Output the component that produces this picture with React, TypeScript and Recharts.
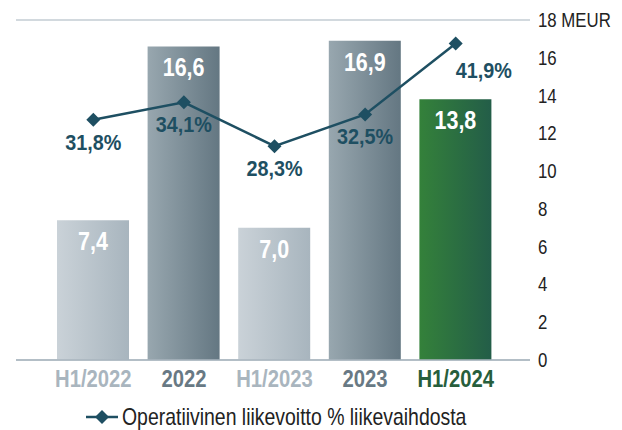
import React from 'react';
import { ComposedChart, Bar, Line, Cell, XAxis, YAxis, CartesianGrid, Legend, LabelList } from 'recharts';

const categories = ['H1/2022', '2022', 'H1/2023', '2023', 'H1/2024'];
const revenue = [7.4, 16.6, 7.0, 16.9, 13.8];
const marginPct = [31.8, 34.1, 28.3, 32.5, 41.9];
const meurTicks = [0, 2, 4, 6, 8, 10, 12, 14, 16, 18];

const fills = ['url(#gLight)', 'url(#gDark)', 'url(#gLight)', 'url(#gDark)', 'url(#gGreen)'];
const tickColors = ['#a9b5be', '#687984', '#a9b5be', '#687984', '#275e3c'];

const data = categories.map((name, i) => ({ name, rev: revenue[i], pct: marginPct[i] }));

const FONT = '"Liberation Sans", Arial, sans-serif';
const fmt = (v: number) => v.toFixed(1).replace('.', ',');
const lineColor = '#1e4f62';

// no condensed font installed, so squeeze Liberation Sans horizontally
const NarrowText = ({ x, y, sx, anchor = 'middle', size, bold, color, children }: any) => (
  <text transform={`translate(${x},${y}) scale(${sx},1)`} textAnchor={anchor}
    fontFamily={FONT} fontWeight={bold ? 'bold' : 'normal'} fontSize={size} fill={color}>
    {children}
  </text>
);

const Diamond = (props: any) => {
  const { cx, cy } = props;
  if (cx == null || cy == null) return null;
  const r = 7;
  return <path d={`M${cx},${cy - r}L${cx + r},${cy}L${cx},${cy + r}L${cx - r},${cy}Z`} fill={lineColor} />;
};

const PctLabel = (props: any) => {
  const { x, y, value, index } = props;
  const last = index === categories.length - 1;
  return (
    <NarrowText x={x + (last ? 28 : 0)} y={y + (last ? 35 : 30)} sx={0.9} size={22} bold color={lineColor}>
      {fmt(value)}%
    </NarrowText>
  );
};

const BarLabel = (props: any) => {
  const { x, y, width, value } = props;
  return (
    <NarrowText x={x + width / 2} y={y + 30} sx={0.86} size={25} bold color="#fff">
      {fmt(value)}
    </NarrowText>
  );
};

const CatTick = (props: any) => {
  const { x, y, payload, index } = props;
  return (
    <NarrowText x={x} y={y + 19} sx={0.88} size={23} bold color={tickColors[index]}>
      {payload.value}
    </NarrowText>
  );
};

const MeurTick = (props: any) => {
  const { x, y, payload } = props;
  return (
    <NarrowText x={x} y={y + 7} sx={0.8} size={21} anchor="start" color="#222">
      {payload.value === 18 ? '18 MEUR' : String(payload.value)}
    </NarrowText>
  );
};

// legend wrapper starts at the left margin (16px)
const LegendBox = () => (
  <svg width={606} height={30} style={{ display: 'block' }}>
    <line x1={70} y1={17} x2={102} y2={17} stroke={lineColor} strokeWidth={2.5} />
    <path d="M86,10L93,17L86,24L79,17Z" fill={lineColor} />
    <NarrowText x={106} y={25} sx={0.845} size={23} anchor="start" color="#222">
      Operatiivinen liikevoitto % liikevaihdosta
    </NarrowText>
  </svg>
);

const App: React.FC = () => {
  return (
    <div style={{ position: 'absolute', left: 0, top: 0 }}>
      <ComposedChart width={622} height={430} data={data}
        margin={{ top: 20, right: 0, left: 16, bottom: 0 }}>
        <defs>
          <linearGradient id="gLight" x1="0" y1="0" x2="1" y2="0">
            <stop offset="0%" stopColor="#cad2d8" />
            <stop offset="100%" stopColor="#a8b5be" />
          </linearGradient>
          <linearGradient id="gDark" x1="0" y1="0" x2="1" y2="0">
            <stop offset="0%" stopColor="#98a7af" />
            <stop offset="100%" stopColor="#647782" />
          </linearGradient>
          <linearGradient id="gGreen" x1="0" y1="0" x2="1" y2="0">
            <stop offset="0%" stopColor="#34813a" />
            <stop offset="100%" stopColor="#235d48" />
          </linearGradient>
        </defs>
        <CartesianGrid vertical={false} stroke="#c3ccd3" strokeWidth={1.5} />
        <XAxis dataKey="name" padding={{ left: 32, right: 29 }} height={40}
          axisLine={{ stroke: '#a9b5be', strokeWidth: 1.5 }} tickLine={false} tick={<CatTick />} interval={0} />
        <YAxis yAxisId="meur" orientation="right" domain={[0, 18]} ticks={meurTicks} width={92}
          axisLine={false} tickLine={false} tickSize={0} tickMargin={8} tick={<MeurTick />} />
        <YAxis yAxisId="pct" hide domain={[0, 45]} />
        <Bar yAxisId="meur" dataKey="rev" barSize={72} isAnimationActive={false}>
          {data.map((d, i) => (
            <Cell key={`c-${i}`} fill={fills[i]} />
          ))}
          <LabelList dataKey="rev" content={<BarLabel />} />
        </Bar>
        <Line yAxisId="pct" dataKey="pct" stroke={lineColor} strokeWidth={2.5} isAnimationActive={false}
          dot={<Diamond />} activeDot={false}>
          <LabelList dataKey="pct" content={<PctLabel />} />
        </Line>
        <Legend verticalAlign="bottom" height={30} content={<LegendBox />} />
      </ComposedChart>
    </div>
  );
};

export default App;
